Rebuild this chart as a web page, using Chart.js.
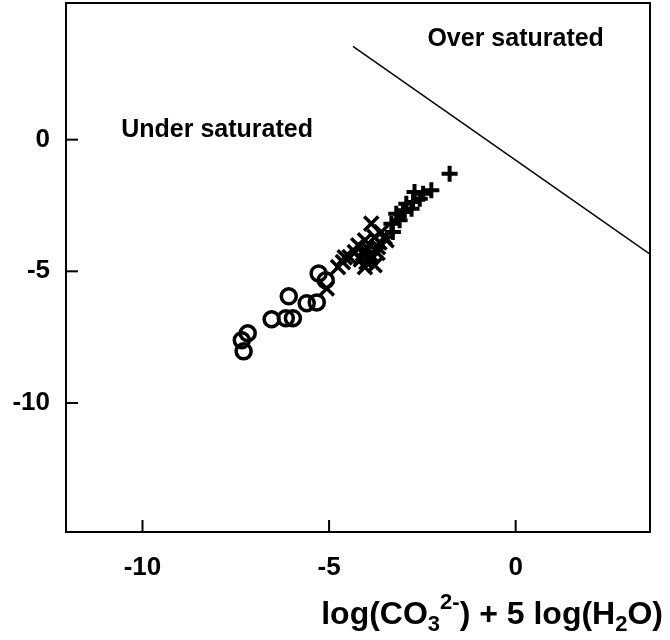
<!DOCTYPE html>
<html>
<head>
<meta charset="utf-8">
<script src="https://cdn.jsdelivr.net/npm/chart.js@4/dist/chart.umd.min.js"></script>
<style>
html,body{margin:0;padding:0;background:#fff;}
canvas{display:block;}
</style>
</head>
<body>
<canvas id="c" width="670" height="640"></canvas>
<script>
// ---- data ----
const circleX = [-5.28, -5.09, -6.08, -5.60, -5.33, -6.54, -6.16, -5.97, -7.18, -7.34, -7.29];
const circleY = [-5.08, -5.34, -5.95, -6.21, -6.18, -6.82, -6.78, -6.78, -7.35, -7.62, -8.04];

const xMarkX = [-3.87, -3.60, -3.46, -3.78, -4.04, -4.22, -3.96, -4.09, -3.87, -4.00, -4.31, -4.45, -4.63, -4.76, -3.69, -3.78, -4.04, -3.51, -5.06, -4.58, -3.90, -4.15, -3.70, -4.05, -3.65];
const xMarkY = [-3.19, -3.51, -3.82, -3.70, -3.82, -4.01, -4.14, -4.33, -4.39, -4.65, -4.27, -4.46, -4.65, -4.84, -4.08, -4.77, -4.84, -3.70, -5.65, -4.47, -4.50, -4.55, -4.30, -4.20, -3.90];

const plusX = [-1.77, -2.26, -2.48, -2.71, -2.57, -2.75, -2.93, -2.97, -3.20, -3.11, -3.33, -3.29, -3.02, -2.79];
const plusY = [-1.29, -1.92, -2.05, -1.99, -2.24, -2.37, -2.43, -2.68, -2.81, -3.06, -3.19, -3.51, -2.75, -2.62];

const boundaryX = [-4.36, 3.6];
const boundaryY = [3.54, -4.35];

const xTickValues = [-10, -5, 0];
const yTickValues = [-10, -5, 0];
const xRange = [-12.05, 3.6];
const yRange = [-14.9, 5.19];

const regionLabels = ['Under saturated', 'Over saturated'];
const regionLabelX = [-8.0, 0.0];
const regionLabelY = [0.35, 3.81];

const titleParts = [
  {t: 'log(CO', k: 'n'}, {t: '3', k: 'sub'}, {t: '2-', k: 'sup'},
  {t: ') + 5 log(H', k: 'n'}, {t: '2', k: 'sub'}, {t: 'O)', k: 'n'}
];

// ---- build ----
const pts = (xs, ys) => xs.map((x, i) => ({x: x, y: ys[i]}));
const FONT = "'Liberation Sans', Arial, Helvetica, sans-serif";

const framePlugin = {
  id: 'frame',
  afterDraw(chart) {
    const ctx = chart.ctx, a = chart.chartArea;
    const xs = chart.scales.x, ys = chart.scales.y;
    ctx.save();
    ctx.strokeStyle = '#000';
    ctx.lineWidth = 2;
    ctx.strokeRect(a.left, a.top, a.right - a.left, a.bottom - a.top);
    // inward tick marks
    xs.ticks.forEach(t => {
      const px = xs.getPixelForValue(t.value);
      ctx.beginPath(); ctx.moveTo(px, a.bottom); ctx.lineTo(px, a.bottom - 12); ctx.stroke();
    });
    ys.ticks.forEach(t => {
      const py = ys.getPixelForValue(t.value);
      ctx.beginPath(); ctx.moveTo(a.left, py); ctx.lineTo(a.left + 12, py); ctx.stroke();
    });
    // region labels
    ctx.fillStyle = '#000';
    ctx.font = 'bold 25px ' + FONT;
    ctx.textAlign = 'center';
    ctx.textBaseline = 'middle';
    regionLabels.forEach((s, i) => {
      ctx.fillText(s, xs.getPixelForValue(regionLabelX[i]), ys.getPixelForValue(regionLabelY[i]));
    });
    // axis title with sub/superscripts, right aligned
    const main = 'bold 32px ' + FONT, small = 'bold 22px ' + FONT;
    let w = 0;
    titleParts.forEach(p => { ctx.font = p.k === 'n' ? main : small; w += ctx.measureText(p.t).width; });
    let x = 663 - w;
    const base = 624;
    ctx.textAlign = 'left';
    ctx.textBaseline = 'alphabetic';
    titleParts.forEach(p => {
      ctx.font = p.k === 'n' ? main : small;
      const dy = p.k === 'sub' ? 7 : (p.k === 'sup' ? -15 : 0);
      ctx.fillText(p.t, x, base + dy);
      x += ctx.measureText(p.t).width;
    });
    ctx.restore();
  }
};

new Chart(document.getElementById('c'), {
  type: 'scatter',
  data: {
    datasets: [
      {
        type: 'line',
        data: pts(boundaryX, boundaryY),
        borderColor: '#000', borderWidth: 1.5, pointRadius: 0, fill: false, showLine: true
      },
      {
        data: pts(circleX, circleY),
        pointStyle: 'circle', pointRadius: 7.5, borderWidth: 3.5,
        borderColor: '#000', backgroundColor: 'rgba(0,0,0,0)'
      },
      {
        data: pts(xMarkX, xMarkY),
        pointStyle: 'crossRot', pointRadius: 10, borderWidth: 3.5,
        borderColor: '#000', backgroundColor: '#000'
      },
      {
        data: pts(plusX, plusY),
        pointStyle: 'cross', pointRadius: 8, borderWidth: 4,
        borderColor: '#000', backgroundColor: '#000'
      }
    ]
  },
  options: {
    responsive: false,
    devicePixelRatio: 1,
    animation: false,
    layout: {autoPadding: false, padding: {left: 0, right: 20, top: 3, bottom: 0}},
    plugins: {legend: {display: false}, tooltip: {enabled: false}},
    scales: {
      x: {
        type: 'linear', min: xRange[0], max: xRange[1],
        afterBuildTicks: s => { s.ticks = xTickValues.map(v => ({value: v})); },
        afterFit: s => { s.height = 108; s.paddingLeft = 0; s.paddingRight = 0; },
        grid: {display: false, drawTicks: false},
        border: {display: false},
        ticks: {color: '#000', font: {family: FONT, size: 26, weight: 'bold'}, padding: 20, maxRotation: 0,
                callback: v => String(v)}
      },
      y: {
        type: 'linear', min: yRange[0], max: yRange[1],
        afterBuildTicks: s => { s.ticks = yTickValues.map(v => ({value: v})); },
        afterFit: s => { s.width = 66; s.paddingTop = 0; s.paddingBottom = 0; },
        grid: {display: false, drawTicks: false},
        border: {display: false},
        ticks: {color: '#000', font: {family: FONT, size: 26, weight: 'bold'}, padding: 16,
                callback: v => String(v)}
      }
    }
  },
  plugins: [framePlugin]
});
</script>
</body>
</html>
